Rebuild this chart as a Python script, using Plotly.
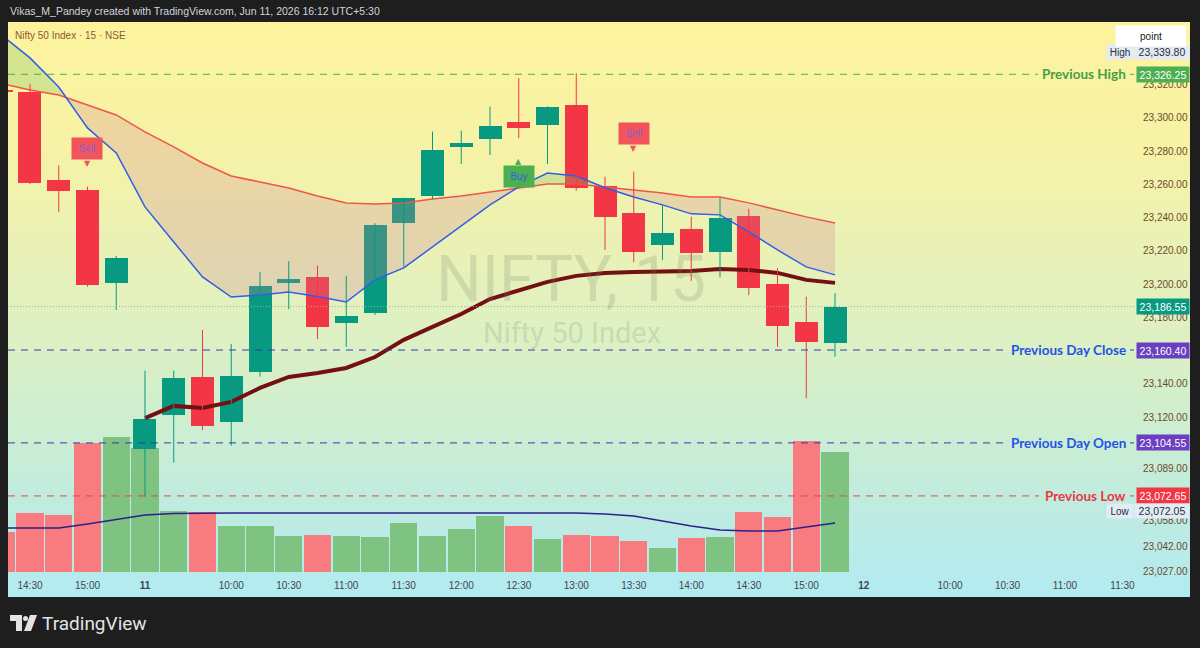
import plotly.graph_objects as go
import numpy as np

# ---------------- data ----------------
# 15-minute bars: -1 = 10 Jun 14:15, 0 = 14:30 ... 3 = 15:15, 4 = 11 Jun 09:15 ... 28 = 15:15
bar_index = list(range(-1, 29))
open_ = [23317.0, 23315.8, 23262.7, 23256.7, 23200.6, 23100.7, 23121.4, 23144.0, 23116.9, 23147.0,
         23200.8, 23204.5, 23176.5, 23182.9, 23237.0, 23253.3, 23282.4, 23287.2, 23297.6, 23295.6,
         23307.8, 23259.1, 23242.7, 23223.6, 23233.0, 23219.2, 23241.2, 23200.0, 23177.1, 23164.8]
high = [23319.0, 23320.5, 23271.5, 23258.7, 23217.0, 23148.0, 23148.0, 23172.5, 23164.0, 23207.4,
        23213.8, 23211.2, 23205.0, 23236.7, 23252.0, 23291.8, 23292.4, 23306.8, 23323.9, 23307.0,
        23326.9, 23264.7, 23267.7, 23247.7, 23240.6, 23251.7, 23245.3, 23209.6, 23192.5, 23194.6]
low = [23311.0, 23260.3, 23243.6, 23198.5, 23184.5, 23072.05, 23092.7, 23112.3, 23102.9, 23144.4,
       23184.9, 23167.0, 23162.4, 23181.5, 23210.6, 23251.1, 23272.3, 23277.7, 23287.8, 23272.3,
       23256.3, 23220.6, 23213.2, 23214.6, 23202.0, 23204.2, 23193.4, 23162.4, 23131.4, 23156.4]
close = [23315.5, 23261.1, 23256.3, 23199.4, 23215.8, 23118.8, 23143.4, 23114.9, 23145.0, 23199.1,
         23203.2, 23174.5, 23181.1, 23235.5, 23251.7, 23280.8, 23285.2, 23295.4, 23294.0, 23306.8,
         23257.7, 23240.6, 23219.6, 23231.0, 23218.6, 23239.7, 23197.7, 23175.1, 23165.5, 23186.55]
volume = [40, 59, 57, 129, 135, 124, 61, 60, 46, 46, 36, 37, 36, 35, 49, 36, 43, 56, 46, 33,
          37, 36, 31, 24, 34, 35, 60, 55, 131, 120]
volume_ma = [44, 44, 44, 48, 52.5, 57, 58.5, 59, 59, 59, 59, 59, 59, 59, 59, 59, 59, 59.5, 59.5, 59,
             59, 58, 56, 51, 46, 42, 41, 41, 45, 49]
ema_fast = [23350.0, 23336.1, 23318.6, 23294.0, 23278.9, 23246.5, 23225.4, 23204.4, 23192.3, 23193.5,
            23195.3, 23192.6, 23189.3, 23202.6, 23209.8, 23222.4, 23235.0, 23247.7, 23258.5, 23266.9,
            23265.1, 23258.0, 23252.5, 23247.7, 23242.3, 23241.7, 23231.5, 23220.6, 23210.4, 23205.6]
ema_slow = [23320.8, 23316.8, 23313.8, 23307.8, 23301.8, 23291.6, 23282.6, 23272.9, 23265.1, 23261.5,
            23257.9, 23253.1, 23248.9, 23248.3, 23248.9, 23251.3, 23253.1, 23255.5, 23257.9, 23260.3,
            23260.3, 23258.5, 23256.7, 23254.9, 23252.5, 23252.5, 23248.9, 23244.7, 23240.5, 23236.8]
vwap = [None, None, None, None, None,
        23119.5, 23126.8, 23125.6, 23129.2, 23137.6, 23144.2, 23146.6, 23149.6, 23156.2, 23166.5,
        23174.3, 23182.1, 23191.1, 23196.5, 23201.4, 23205.0, 23206.8, 23207.4, 23208.0, 23208.0,
        23209.2, 23208.6, 23206.8, 23202.6, 23200.8]

tick_pos = [0, 2, 4, 7, 9, 11, 13, 15, 17, 19, 21, 23, 25, 27, 29, 32, 34, 36, 38]
tick_text = ['14:30', '15:00', '<b>11</b>', '10:00', '10:30', '11:00', '11:30', '12:00', '12:30',
             '13:00', '13:30', '14:00', '14:30', '15:00', '<b>12</b>', '10:00', '10:30', '11:00', '11:30']
price_ticks = [23320, 23300, 23280, 23260, 23240, 23220, 23200, 23180, 23140, 23120,
               23089, 23058, 23042, 23027]

prev_high = 23326.25
prev_day_close = 23160.40
prev_day_open = 23104.55
prev_low = 23072.65
last_price = 23186.55
visible_high = 23339.80
visible_low = 23072.05

signal_text = ['Sell', 'Buy', 'Sell']
signal_bar = [2, 17, 21]

# ---------------- layout helpers ----------------
W, H = 1200, 648
ML, MR, MT, MB = 8, 66, 22, 76
PW, PH = W - ML - MR, H - MT - MB


def px(x):
    return (x - ML) / PW


def py(y):
    return (H - MB - y) / PH


UP, DOWN = '#089981', '#f23645'
fig = go.Figure()

# gradient background (chart panel)
stops = [(22, (253, 243, 158)), (150, (246, 242, 166)), (300, (227, 241, 190)),
         (420, (206, 238, 208)), (520, (189, 235, 226)), (597, (178, 235, 242))]
sy = [s[0] for s in stops]
shapes = []
for y0 in range(22, 597, 5):
    yc = y0 + 2.5
    col = [int(round(np.interp(yc, sy, [s[1][k] for s in stops]))) for k in range(3)]
    shapes.append(dict(type='rect', xref='paper', yref='paper', x0=px(8), x1=px(1190),
                       y0=py(min(y0 + 5.6, 597)), y1=py(y0), layer='below',
                       line=dict(width=0), fillcolor='rgb(%d,%d,%d)' % tuple(col)))

# volume (base axis, drawn below price layer)
vol_colors = ['#7fc382' if c >= o else '#f77b7f' for o, c in zip(open_, close)]
fig.add_trace(go.Bar(x=bar_index, y=volume, marker=dict(color=vol_colors, line=dict(width=0)),
                     width=0.955, xaxis='x', yaxis='y', hoverinfo='skip'))
fig.add_trace(go.Scatter(x=bar_index, y=volume_ma, mode='lines', line=dict(color='#2e1f8c', width=1.6),
                         xaxis='x', yaxis='y', hoverinfo='skip'))

# EMA cloud fill between fast and slow EMA
xa = np.array(bar_index, float)
a = np.array(ema_fast)
b = np.array(ema_slow)
segs = []
cx, ca, cb = [xa[0]], [a[0]], [b[0]]
csign = np.sign(a[0] - b[0])
for i in range(1, len(xa)):
    d0, d1 = a[i - 1] - b[i - 1], a[i] - b[i]
    if d1 != 0 and np.sign(d1) != csign:
        t = d0 / (d0 - d1)
        xc = xa[i - 1] + t * (xa[i] - xa[i - 1])
        yc = a[i - 1] + t * (a[i] - a[i - 1])
        cx.append(xc); ca.append(yc); cb.append(yc)
        segs.append((csign, cx, ca, cb))
        cx, ca, cb = [xc, xa[i]], [yc, a[i]], [yc, b[i]]
        csign = np.sign(d1)
    else:
        cx.append(xa[i]); ca.append(a[i]); cb.append(b[i])
segs.append((csign, cx, ca, cb))
for sgn, sx, sa, sb in segs:
    fc = 'rgba(120,190,100,0.28)' if sgn > 0 else 'rgba(210,130,150,0.26)'
    fig.add_trace(go.Scatter(x=list(sx) + list(sx)[::-1], y=list(sa) + list(sb)[::-1], fill='toself',
                             fillcolor=fc, line=dict(width=0), mode='lines', yaxis='y2',
                             hoverinfo='skip'))

fig.add_trace(go.Scatter(x=bar_index, y=ema_slow, mode='lines', line=dict(color='#f05548', width=1.5),
                         yaxis='y2', hoverinfo='skip'))
fig.add_trace(go.Scatter(x=bar_index, y=ema_fast, mode='lines', line=dict(color='#2f5ee8', width=1.5),
                         yaxis='y2', hoverinfo='skip'))
fig.add_trace(go.Scatter(x=bar_index, y=vwap, mode='lines', line=dict(color='#741012', width=4),
                         yaxis='y2', hoverinfo='skip'))

# candles: wicks + bodies
for up, col in ((True, UP), (False, DOWN)):
    wx, wy, bx, bb, bh = [], [], [], [], []
    for i, o, h, l, c in zip(bar_index, open_, high, low, close):
        if (c >= o) == up:
            wx += [i, i, None]
            wy += [l, h, None]
            bx.append(i)
            bb.append(min(o, c))
            bh.append(abs(c - o))
    fig.add_trace(go.Scatter(x=wx, y=wy, mode='lines', line=dict(color=col, width=1), yaxis='y2',
                             hoverinfo='skip'))
    fig.add_trace(go.Bar(x=bx, y=bh, base=bb, width=0.8, marker=dict(color=col, line=dict(width=0)),
                         yaxis='y2', hoverinfo='skip'))

# horizontal level lines
level_defs = [
    (prev_high, 'Previous High', '#43a047', '#4caf50', '#4caf50', 1038),
    (prev_day_close, 'Previous Day Close', '#2453e6', '#3a3aa8', '#6a3fc1', 1006),
    (prev_day_open, 'Previous Day Open', '#2453e6', '#3a3aa8', '#6a3fc1', 1007),
    (prev_low, 'Previous Low', '#e83a44', '#e04850', '#f23645', 1039),
]
annotations = []
for lvl, name, tcol, lcol, boxcol, xstart in level_defs:
    shapes.append(dict(type='line', xref='paper', yref='y2', x0=0, x1=px(xstart), y0=lvl, y1=lvl,
                       layer='above', line=dict(color=lcol, width=1, dash='7px,6px')))
    shapes.append(dict(type='line', xref='paper', yref='y2', x0=px(1130), x1=1, y0=lvl, y1=lvl,
                       layer='above', line=dict(color=lcol, width=1)))
    annotations.append(dict(x=px(1128), y=lvl, xref='paper', yref='y2', xanchor='right',
                            yanchor='middle', showarrow=False, text='<b>%s</b>' % name,
                            font=dict(family='Lato', size=13.5, color=tcol)))
    annotations.append(dict(x=1, y=lvl, xref='paper', yref='y2', xanchor='left', yanchor='middle',
                            xshift=2, showarrow=False, text='{:,.2f}'.format(lvl), width=50, height=13,
                            bgcolor=boxcol, borderpad=1,
                            font=dict(family='Liberation Sans', size=10.5, color='white')))

# last price
shapes.append(dict(type='line', xref='paper', yref='y2', x0=0, x1=1, y0=last_price, y1=last_price,
                   layer='above', line=dict(color='#a3b398', width=1, dash='1px,2px')))
annotations.append(dict(x=1, y=last_price, xref='paper', yref='y2', xanchor='left', yanchor='middle',
                        xshift=2, showarrow=False, text='{:,.2f}'.format(last_price), width=50, height=13,
                        bgcolor=UP, borderpad=1,
                        font=dict(family='Liberation Sans', size=10.5, color='white')))

# visible high / low labels
for val, lab, ys in ((visible_high, 'High', 0), (visible_low, 'Low', -14)):
    annotations.append(dict(x=1, y=val, xref='paper', yref='y2', xanchor='right', yanchor='middle',
                            yshift=ys, showarrow=False, text=lab, bgcolor='#e2ecf7', borderpad=1,
                            height=12, width=24,
                            font=dict(family='Liberation Sans', size=10, color='#2a2e39')))
    annotations.append(dict(x=1, y=val, xref='paper', yref='y2', xanchor='left', yanchor='middle',
                            yshift=ys, xshift=0, showarrow=False, text='{:,.2f}'.format(val),
                            bgcolor='#e2ecf7', borderpad=1, height=12, width=52,
                            font=dict(family='Liberation Sans', size=10.5, color='#2a2e39')))

# Buy / Sell signals
for txt, bi in zip(signal_text, signal_bar):
    if txt == 'Sell':
        yv, ys, tri, box, tc = high[bi + 1], 38, '▼', '#f2545c', '#8a5fd0'
    else:
        yv, ys, tri, box, tc = low[bi + 1], -38, '▲', '#4caf50', '#2f62e8'
    annotations.append(dict(x=bi, y=yv, xref='x', yref='y2', yshift=ys, showarrow=False, text=txt,
                            bgcolor=box, borderpad=5, width=20,
                            font=dict(family='Liberation Sans', size=10, color=tc)))
    annotations.append(dict(x=bi, y=yv, xref='x', yref='y2', yshift=ys * 0.62, showarrow=False, text=tri,
                            font=dict(family='DejaVu Sans', size=8, color=box)))

# watermark
annotations.append(dict(x=px(571), y=py(279), xref='paper', yref='paper', showarrow=False,
                        text='NIFTY, 15', font=dict(family='Roboto', size=64, color='rgba(110,125,100,0.2)')))
annotations.append(dict(x=px(572), y=py(333), xref='paper', yref='paper', showarrow=False,
                        text='Nifty 50 Index', font=dict(family='Roboto', size=29, color='rgba(110,125,100,0.2)')))

# header texts
annotations.append(dict(x=0, y=py(11), xref='paper', yref='paper', xanchor='left', yanchor='middle',
                        showarrow=False,
                        text='Vikas_M_Pandey created with TradingView.com, Jun 11, 2026 16:12 UTC+5:30',
                        font=dict(family='Liberation Sans', size=10.5, color='#d1d4dc')))
annotations.append(dict(x=px(13), y=py(35), xref='paper', yref='paper', xanchor='left', yanchor='middle',
                        showarrow=False, text='Nifty 50 Index · 15 · NSE',
                        font=dict(family='Liberation Sans', size=10, color='#8d5a2b')))
# "point" box
annotations.append(dict(x=px(1151), y=py(36), xref='paper', yref='paper', xanchor='center', yanchor='middle',
                        showarrow=False, text='point', bgcolor='white', width=66, height=16, borderpad=2,
                        font=dict(family='Liberation Sans', size=10, color='#131722')))

# TradingView footer logo
annotations.append(dict(x=px(40), y=py(623), xref='paper', yref='paper', xanchor='left', yanchor='middle',
                        showarrow=False, text='TradingView',
                        font=dict(family='Roboto', size=19, color='#e3e3e3')))
lg = '#e3e3e3'
shapes.append(dict(type='rect', xref='paper', yref='paper', x0=px(10), x1=px(22), y0=py(621), y1=py(615),
                   fillcolor=lg, line=dict(width=0)))
shapes.append(dict(type='rect', xref='paper', yref='paper', x0=px(16), x1=px(22), y0=py(631), y1=py(615),
                   fillcolor=lg, line=dict(width=0)))
shapes.append(dict(type='circle', xref='paper', yref='paper', x0=px(23), x1=px(28), y0=py(621), y1=py(616),
                   fillcolor=lg, line=dict(width=0)))
path = 'M {} {} L {} {} L {} {} L {} {} Z'.format(px(30), py(615), px(37), py(615), px(31), py(631),
                                                  px(24), py(631))
shapes.append(dict(type='path', xref='paper', yref='paper', path=path, fillcolor=lg, line=dict(width=0)))

fig.update_layout(
    width=W, height=H,
    margin=dict(l=ML, r=MR, t=MT, b=MB, pad=0),
    paper_bgcolor='#1e1e1e', plot_bgcolor='rgba(0,0,0,0)',
    showlegend=False, barmode='overlay', bargap=0,
    shapes=shapes, annotations=annotations,
    xaxis=dict(range=[-0.765, 38.4], tickvals=tick_pos, ticktext=tick_text, showgrid=False,
               zeroline=False, showline=False, ticks='', ticklabelstandoff=6,
               tickfont=dict(family='Liberation Sans', size=10, color='#434651')),
    yaxis=dict(range=[0, 550], visible=False, fixedrange=True),
    yaxis2=dict(range=[23026.9, 23357.7], overlaying='y', side='right', tickvals=price_ticks,
                ticktext=['{:,.2f}'.format(v) for v in price_ticks], showgrid=False, zeroline=False,
                showline=False, ticks='', ticklabelstandoff=8,
                tickfont=dict(family='Liberation Sans', size=10, color='#6b4a2a')),
)

fig.write_html('out.html', config={'displayModeBar': False},
               post_script="document.body.style.margin='0';document.body.style.padding='0';"
                           "document.body.style.background='#1e1e1e';document.body.style.overflow='hidden';")
